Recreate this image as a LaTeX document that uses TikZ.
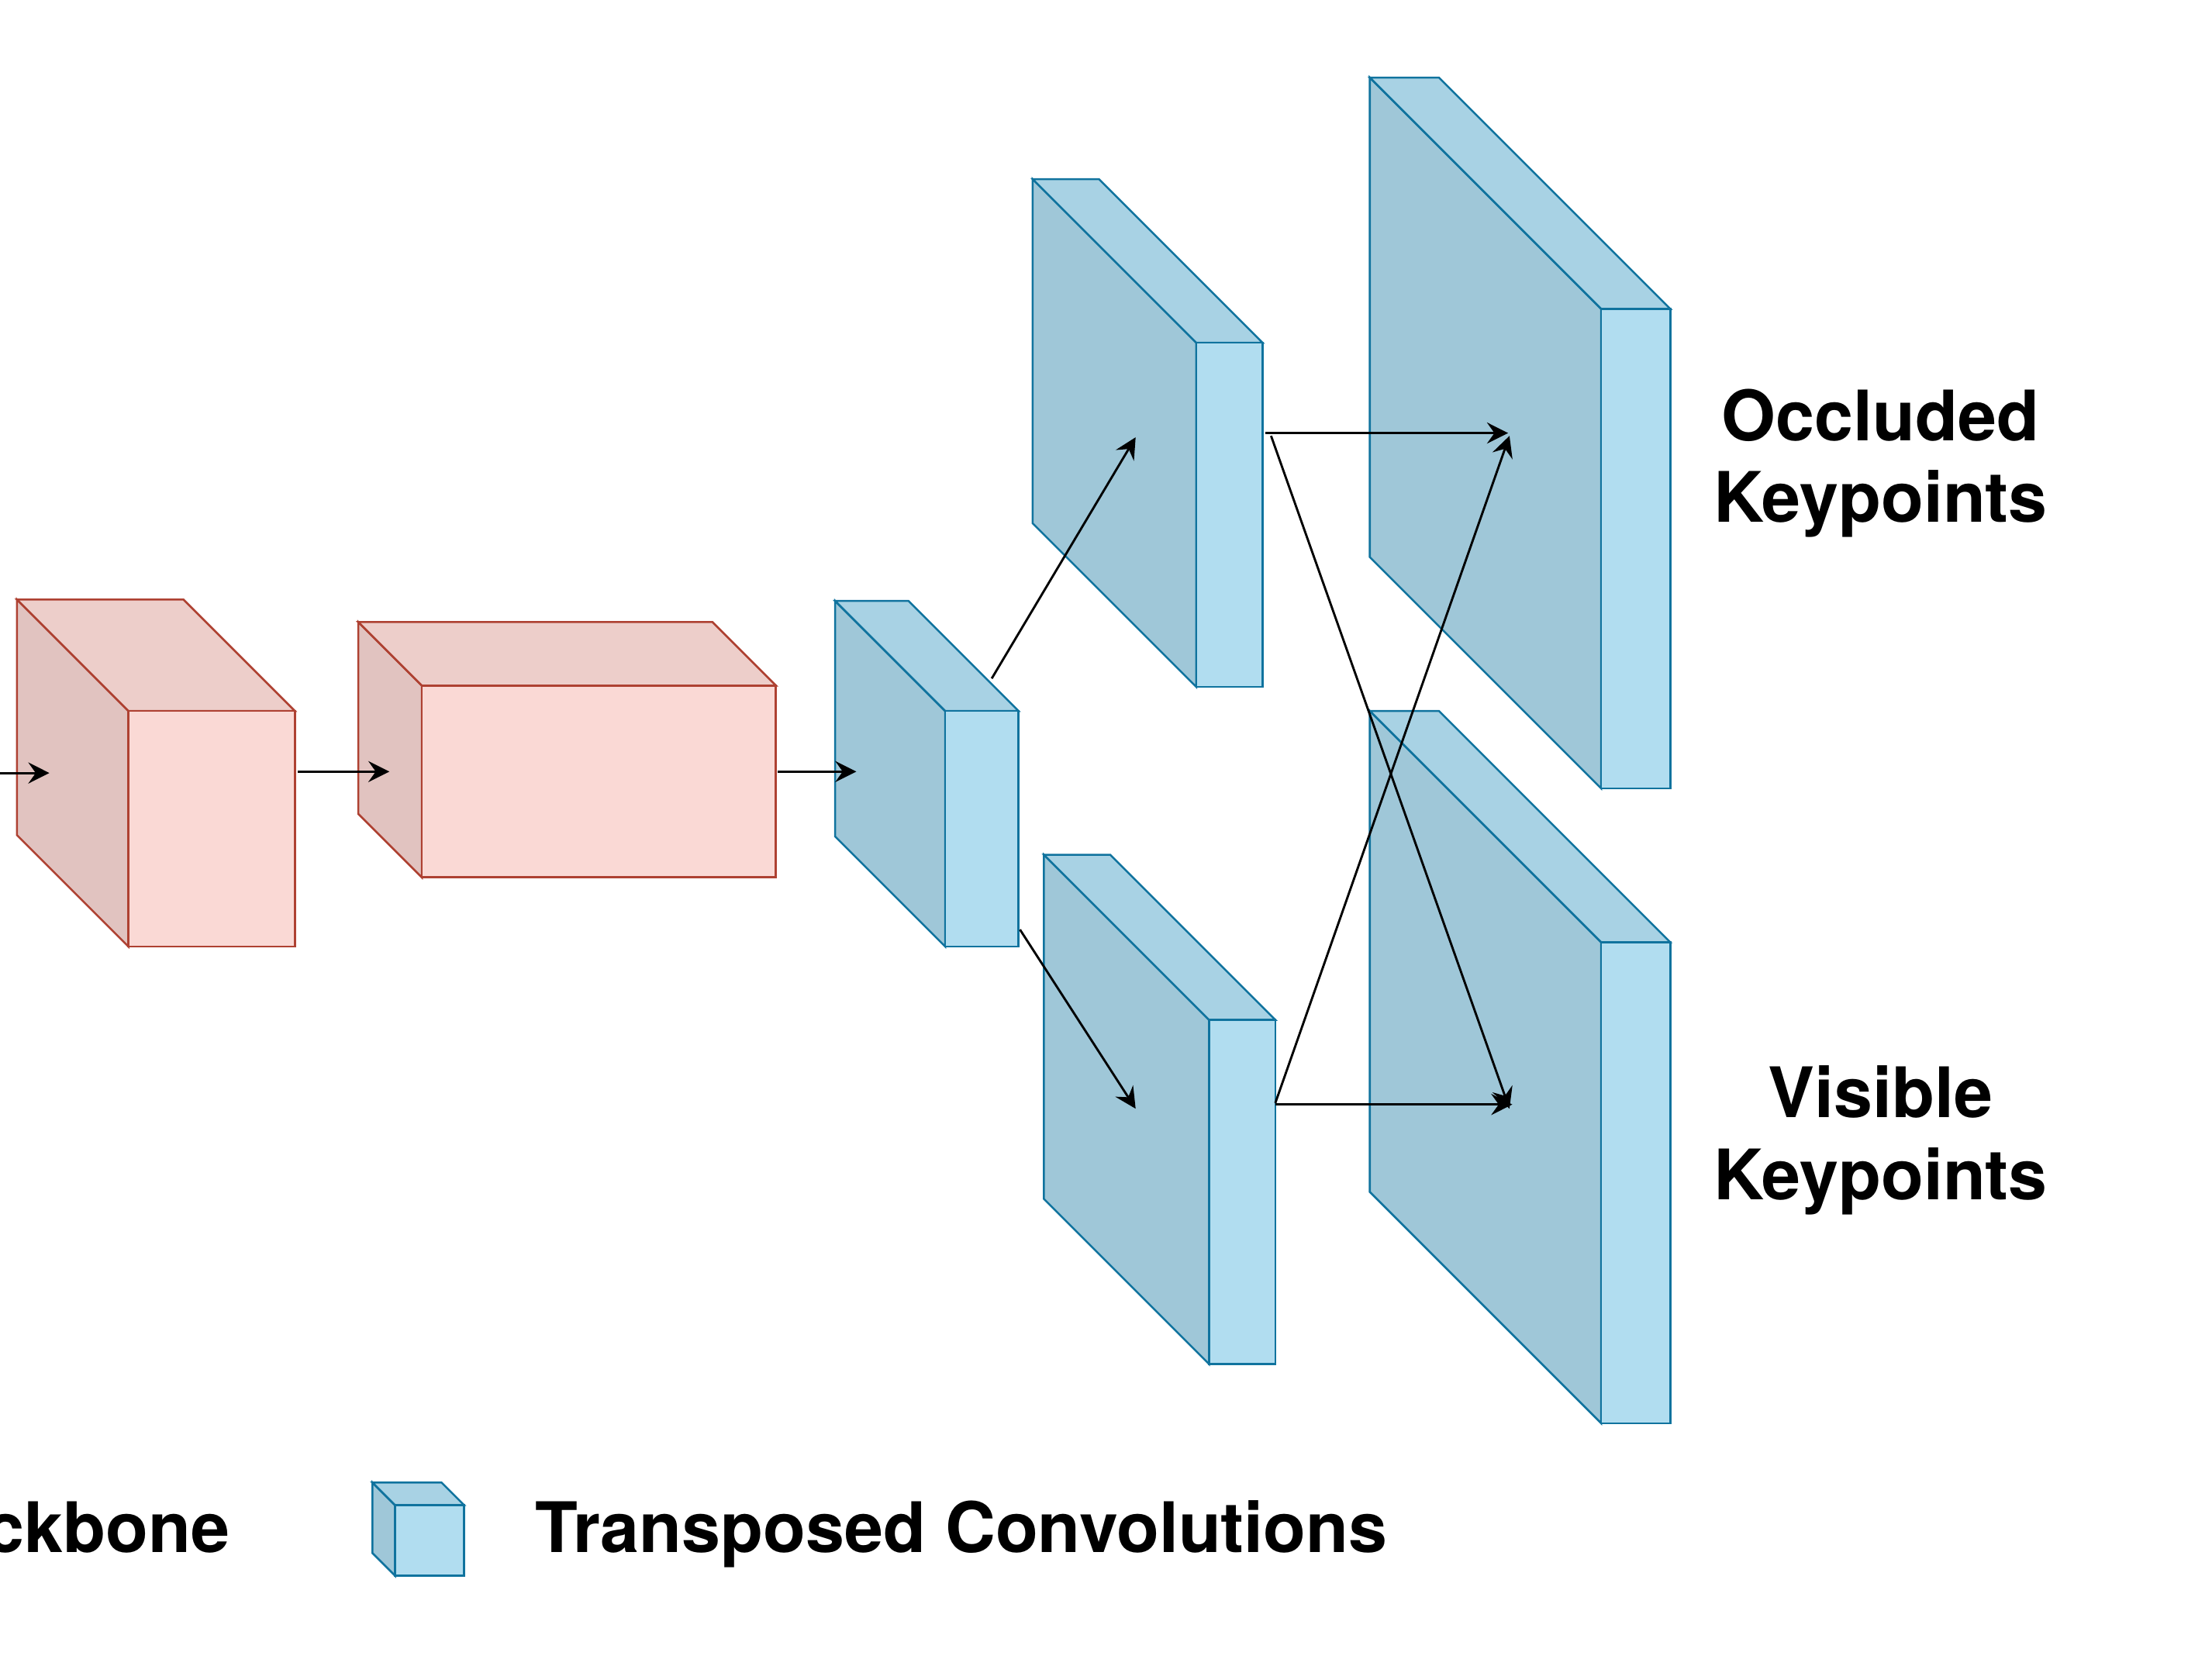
\documentclass[tikz,border=0pt]{standalone}
\usepackage{fontspec}
\setmainfont{TeX Gyre Heros}
\usetikzlibrary{arrows.meta}
\definecolor{redfill}{HTML}{FAD9D5}
\definecolor{redline}{HTML}{AE4132}
\definecolor{bluefill}{HTML}{B1DDF0}
\definecolor{blueline}{HTML}{10739E}
% cube: name, front top-left (x,y), width, height, depth, colour
\newcommand{\featcube}[7]{%
  \filldraw[fill=#7fill!90!black, draw=#7line] (#2,#3) -- ++(-#6,-#6) -- ++(0,#5) -- ++(#6,#6) -- cycle;
  \filldraw[fill=#7fill!95!black, draw=#7line] (#2,#3) -- ++(-#6,-#6) -- ++(#4,0) -- ++(#6,#6) -- cycle;
  \filldraw[fill=#7fill, draw=#7line] (#2,#3) rectangle ++(#4,#5);
  \coordinate (#1) at (#2,#3);
}
\begin{document}
\begin{tikzpicture}[x=0.02cm, y=-0.02cm, line width=0.8pt]
		\tikzset{flow/.style={-{Stealth[length=8.5pt,width=8.5pt,inset=3pt]}, line width=0.9pt},
			lbl/.style={inner sep=0pt, align=center, anchor=base, font=\bfseries\fontsize{28.1}{33.1}\selectfont}}
		\useasboundingbox (0,0) rectangle (1568,1176);
		% backbone
		\featcube{bb1}{91}{504}{118}{167}{79}{red}
		\featcube{bb2}{299}{486}{251}{136}{45}{red}
		% transposed convolutions
		\featcube{tc1}{670}{504}{52}{167}{78}{blue}
		\featcube{tc2}{848}{243}{47}{244}{116}{blue}
		\featcube{tc3}{857}{723}{47}{244}{117}{blue}
		\featcube{occ}{1135}{219}{49}{340}{164}{blue}
		\featcube{vis}{1135}{668}{49}{341}{164}{blue}
		% arrow ends
		\coordinate (a0) at (0,548);     \coordinate (a1) at (35,548);
		\coordinate (b0) at (211,547);   \coordinate (b1) at (276,547);
		\coordinate (c0) at (551,547);   \coordinate (c1) at (607,547);
		\coordinate (d0) at (703,481);   \coordinate (d1) at (805,310);
		\coordinate (e0) at (723,659);   \coordinate (e1) at (805,786);
		\coordinate (f0) at (897,307);   \coordinate (f1) at (1069,307);
		\coordinate (g0) at (901,309);   \coordinate (g1) at (1070,786);
		\coordinate (h0) at (904,782);   \coordinate (h1) at (1070,309);
		\coordinate (k0) at (904,783);   \coordinate (k1) at (1072,783);
		\foreach \s in {a,b,c,d,e,f,g,h,k}
			\draw [flow] (\s0) -- (\s1);
		% labels (base = last line)
		\node [lbl] (occtxt) at (1333,370.4) {Occluded\\Keypoints};
		\node [lbl] (vistxt) at (1333,850.6) {Visible\\Keypoints};
		% legend
		\node [lbl, anchor=base east] (bbtxt) at (163.4,1100.6) {Backbone};
		\featcube{leg}{280}{1067}{49}{50}{16}{blue}
		\node [lbl, anchor=base west] (tctxt) at (379,1100.6) {Transposed Convolutions};
\end{tikzpicture}
\end{document}
